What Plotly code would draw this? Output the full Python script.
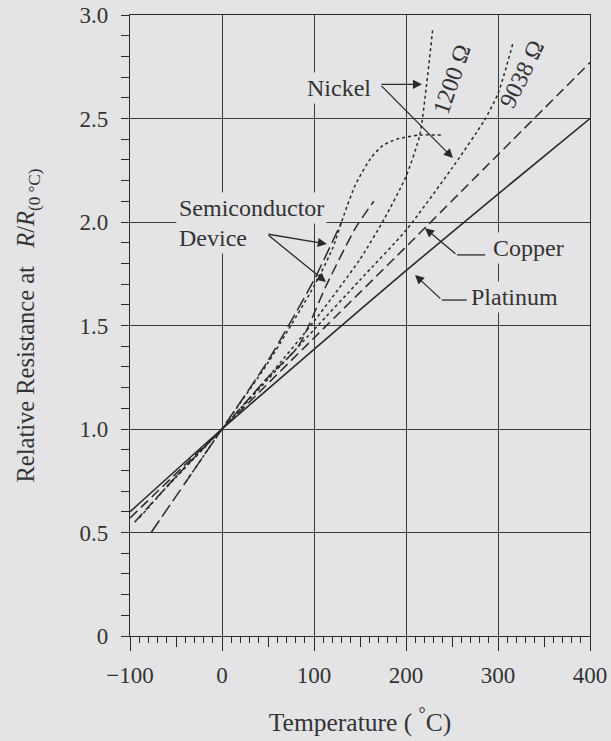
import plotly.graph_objects as go

# ---- data ----
T_platinum = [-100, 0, 100, 200, 300, 400]
R_platinum = [0.60, 1.00, 1.385, 1.765, 2.135, 2.50]

T_copper = [-100, 0, 100, 200, 300, 400]
R_copper = [0.57, 1.00, 1.44, 1.88, 2.325, 2.77]

T_ni9038 = [-90, -50, 0, 50, 100, 150, 200, 250, 285, 300, 316]
R_ni9038 = [0.57, 0.77, 1.00, 1.24, 1.48, 1.72, 1.96, 2.26, 2.49, 2.62, 2.86]

T_ni1200 = [-60, -30, 0, 50, 100, 150, 177, 200, 215, 222, 229]
R_ni1200 = [0.72, 0.86, 1.00, 1.25, 1.52, 1.82, 2.02, 2.22, 2.42, 2.65, 2.93]

T_semi_s = [-40, 0, 50, 100, 120, 133, 145, 162, 175, 190, 214, 239]
R_semi_s = [0.74, 1.00, 1.32, 1.69, 1.87, 2.04, 2.18, 2.31, 2.37, 2.40, 2.42, 2.42]

T_semi_a = [-77, -40, 0, 50, 100, 130]
R_semi_a = [0.50, 0.74, 1.00, 1.33, 1.72, 2.00]

T_semi_b = [-95, -50, 0, 50, 83, 114, 145, 165]
R_semi_b = [0.55, 0.77, 1.00, 1.25, 1.40, 1.70, 1.97, 2.10]

x_ticks = [-100, 0, 100, 200, 300, 400]
x_ticktext = ["\u2212100", "0", "100", "200", "300", "400"]
y_ticks = [0, 0.5, 1.0, 1.5, 2.0, 2.5, 3.0]
y_ticktext = ["0", "0.5", "1.0", "1.5", "2.0", "2.5", "3.0"]
x_mid_ticks = [-50, 50, 150, 250, 350]

BG = "#e4e4e6"
INK = "#2a2a2a"
TXT = "#333333"
FONT = "Liberation Serif"

fig = go.Figure()

def add_line(x, y, dash, shape="linear", width=1.5):
    fig.add_trace(go.Scatter(x=x, y=y, mode="lines",
                             line=dict(color=INK, width=width, dash=dash, shape=shape, smoothing=0.6),
                             showlegend=False, hoverinfo="skip"))

add_line(T_platinum, R_platinum, "solid", "spline", 1.6)
add_line(T_copper, R_copper, "10px,5px", "spline")
add_line(T_ni9038, R_ni9038, "3px,3px", "spline")
add_line(T_ni1200, R_ni1200, "3px,3px", "spline")
add_line(T_semi_s, R_semi_s, "3px,3px", "spline")
add_line(T_semi_a, R_semi_a, "14px,5px", "spline")
add_line(T_semi_b, R_semi_b, "11px,5px", "spline")

# dummy trace so the secondary tick axis is drawn
fig.add_trace(go.Scatter(x=[None], y=[None], xaxis="x2", yaxis="y",
                         showlegend=False, hoverinfo="skip"))

ann_font = dict(family=FONT, size=24, color=TXT)

def label(x, y, text, xanchor="center", angle=0, bg=True):
    fig.add_annotation(x=x, y=y, text=text, showarrow=False, xanchor=xanchor,
                       textangle=angle, font=ann_font,
                       bgcolor=BG if bg else None, borderpad=2)

def arrow(x, y, ax, ay):
    fig.add_annotation(x=x, y=y, ax=ax, ay=ay, axref="x", ayref="y", text="",
                       showarrow=True, arrowhead=2, arrowsize=1.4, arrowwidth=1.3,
                       arrowcolor=INK, standoff=0)

label(127, 2.647, "Nickel")
arrow(217.4, 2.665, 171.7, 2.665)
arrow(251, 2.309, 171.7, 2.665)
label(250, 2.69, "1200 \u03a9", angle=-71, bg=False)
label(326, 2.715, "9038 \u03a9", angle=-64, bg=False)

label(-50, 2.068, "Semiconductor", xanchor="left")
label(-50, 1.923, "Device", xanchor="left")
arrow(114, 1.894, 48.9, 1.942)
arrow(113, 1.71, 48.9, 1.942)

label(291.3, 1.874, "Copper", xanchor="left")
arrow(220.6, 1.97, 255.4, 1.841)
fig.add_shape(type="line", x0=255.4, x1=286, y0=1.841, y1=1.841, line=dict(color=INK, width=1.3))

label(267.4, 1.638, "Platinum", xanchor="left")
arrow(209.8, 1.744, 239, 1.623)
fig.add_shape(type="line", x0=239, x1=266, y0=1.623, y1=1.623, line=dict(color=INK, width=1.3))

tick_font = dict(family=FONT, size=23, color=TXT)

fig.update_layout(
    width=611, height=741, autosize=False,
    margin=dict(l=130, r=21, t=15, b=105),
    paper_bgcolor=BG, plot_bgcolor=BG,
    font=dict(family=FONT, color=TXT),
    xaxis=dict(
        range=[-100, 400], tickvals=x_ticks, ticktext=x_ticktext, automargin=False,
        ticks="outside", ticklen=14, tickwidth=1.2, tickcolor=INK,
        showline=True, linecolor=INK, linewidth=1.3, mirror=True,
        showgrid=True, gridcolor="#3a3a3a", gridwidth=1,
        zeroline=False, tickfont=tick_font, ticklabelstandoff=4,
        minor=dict(dtick=10, ticks="outside", ticklen=6, tickcolor=INK, tickwidth=1, showgrid=False),
        title=dict(text="Temperature (\u00a0<sup>\u00b0</sup>C)", font=dict(family=FONT, size=25.5, color=TXT), standoff=26),
    ),
    xaxis2=dict(
        range=[-100, 400], overlaying="x", anchor="y", side="bottom", automargin=False,
        tickvals=x_mid_ticks, ticks="outside", ticklen=10, tickwidth=1, tickcolor=INK,
        showticklabels=False, showgrid=False, showline=False, zeroline=False,
    ),
    yaxis=dict(
        range=[0, 3.0], tickvals=y_ticks, ticktext=y_ticktext, automargin=False,
        ticks="outside", ticklen=8, tickwidth=1.2, tickcolor=INK,
        showline=True, linecolor=INK, linewidth=1.3, mirror=True,
        showgrid=True, gridcolor="#3a3a3a", gridwidth=1,
        zeroline=False, tickfont=tick_font, ticklabelstandoff=8,
        minor=dict(dtick=0.1, ticks="outside", ticklen=8, tickcolor=INK, tickwidth=1, showgrid=False),
        title=dict(text="Relative Resistance at\u00a0\u00a0\u00a0<i>R</i>/<i>R</i><sub>(0 \u00b0C)</sub>",
                   font=dict(family=FONT, size=24.5, color=TXT), standoff=37),
    ),
)

fig.write_html("out.html", config={"displayModeBar": False},
               post_script="document.body.style.margin='0px';document.body.style.overflow='hidden';document.body.style.background='" + BG + "';")
